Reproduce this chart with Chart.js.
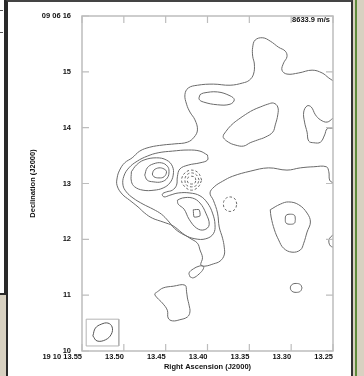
<!DOCTYPE html>
<html>
<head>
<meta charset="utf-8">
<script src="https://cdn.jsdelivr.net/npm/chart.js@4.4.1/dist/chart.umd.min.js"></script>
<style>
  html, body { margin: 0; padding: 0; }
  body {
    width: 364px; height: 376px; position: relative; overflow: hidden;
    background: #d8d1c1;
    font-family: "Liberation Sans", Arial, sans-serif;
  }
  #side-panel {
    position: absolute; left: 0; top: 0; width: 4px; height: 293px;
    background: #fff; border-right: 2px solid #2a2a2a; border-bottom: 2px solid #2a2a2a;
  }
  .side-tick { position: absolute; left: 0; width: 3px; height: 1px; background: #555; }
  #panel {
    position: absolute; left: 6px; top: 0; width: 343px; height: 390px;
    background: #fff; border-left: 2px solid #2a2a2a; border-top: 2px solid #444;
    border-right: 2px solid #333;
  }
  #green-edge { position: absolute; left: 355px; top: 0; width: 2px; height: 376px; background: #5f8b3c; }
  #map { position: absolute; left: 0; top: 0; z-index: 2; }
</style>
</head>
<body>
<div id="side-panel"><div class="side-tick" style="top:10px"></div><div class="side-tick" style="top:32px"></div></div>
<div id="panel"></div>
<div id="green-edge"></div>
<canvas id="map" width="364" height="376"></canvas>

<script>
// ============================================
// Axis ticks
// ============================================
const raTicks = [13.55, 13.5, 13.45, 13.4, 13.35, 13.3, 13.25];
const raLabels = ["19 10 13.55", "13.50", "13.45", "13.40", "13.35", "13.30", "13.25"];
const decTicks = [10, 11, 12, 13, 14, 15, 16];
const decLabels = ["10", "11", "12", "13", "14", "15", "09 06 16"];
const velocityLabel = "8633.9 m/s";

// ============================================
// Contours [RA s, Dec arcsec]
// ============================================
// lowest level, runs in and out of the east edge
const outerRim = [
  [13.250,14.84],[13.255,14.89],[13.263,14.98],[13.275,15.03],[13.291,14.98],[13.305,14.96],
  [13.311,15.03],[13.309,15.16],[13.305,15.27],[13.307,15.37],[13.315,15.44],[13.325,15.55],
  [13.334,15.61],[13.343,15.57],[13.346,15.44],[13.346,15.28],[13.344,15.14],[13.345,14.96],
  [13.350,14.85],[13.358,14.80],[13.373,14.76],[13.393,14.78],[13.412,14.76],[13.423,14.71],
  [13.427,14.59],[13.425,14.42],[13.421,14.28],[13.415,14.14],[13.412,13.96],[13.416,13.83],
  [13.424,13.74],[13.439,13.71],[13.453,13.69],[13.469,13.65],[13.481,13.58],[13.490,13.46],
  [13.499,13.37],[13.505,13.24],[13.508,13.10],[13.508,12.96],[13.502,12.81],[13.493,12.70],
  [13.483,12.58],[13.475,12.47],[13.466,12.38],[13.453,12.31],[13.441,12.24],[13.430,12.11],
  [13.421,12.02],[13.412,11.93],[13.409,11.81],[13.406,11.67],[13.408,11.54],[13.403,11.52],
  [13.393,11.56],[13.385,11.61],[13.380,11.72],[13.380,11.86],[13.382,12.02],[13.386,12.22],
  [13.388,12.47],[13.393,12.70],[13.397,12.83],[13.392,12.94],[13.382,13.04],[13.370,13.13],
  [13.349,13.22],[13.327,13.28],[13.305,13.24],[13.289,13.28],[13.273,13.30],[13.258,13.30],
  [13.255,13.21],[13.254,13.06],[13.250,13.01]
];
const mainCore = [
  [13.400,13.51],[13.409,13.58],[13.423,13.60],[13.442,13.58],[13.459,13.55],[13.472,13.49],
  [13.484,13.40],[13.494,13.28],[13.500,13.13],[13.501,12.97],[13.497,12.85],[13.489,12.74],
  [13.477,12.63],[13.465,12.54],[13.455,12.45],[13.447,12.33],[13.439,12.19],[13.428,12.08],
  [13.415,12.01],[13.402,12.01],[13.393,12.10],[13.391,12.26],[13.394,12.47],[13.400,12.65],
  [13.409,12.78],[13.421,12.83],[13.435,12.83],[13.445,12.79],[13.452,12.76],[13.454,12.81],
  [13.449,12.85],[13.442,12.88],[13.437,12.97],[13.436,13.12],[13.433,13.26],[13.423,13.33],
  [13.409,13.37],[13.400,13.42]
];
const coreRing3 = [
  [13.491,13.21],[13.491,13.04],[13.487,12.94],[13.477,12.88],[13.464,12.88],[13.453,12.92],
  [13.445,13.01],[13.441,13.15],[13.442,13.31],[13.449,13.42],[13.461,13.46],[13.476,13.42],
  [13.485,13.33]
];
const coreRing4 = [
  [13.475,13.15],[13.472,13.28],[13.465,13.35],[13.455,13.37],[13.448,13.31],[13.446,13.22],
  [13.448,13.10],[13.455,13.03],[13.465,13.03],[13.472,13.06]
];
const coreRing5 = [
  [13.466,13.17],[13.464,13.24],[13.458,13.28],[13.452,13.26],[13.449,13.21],[13.452,13.12],
  [13.458,13.10],[13.464,13.12]
];
const southCore3 = [
  [13.436,12.70],[13.430,12.74],[13.418,12.74],[13.409,12.65],[13.402,12.47],[13.398,12.26],
  [13.404,12.17],[13.413,12.20],[13.422,12.36],[13.428,12.54],[13.435,12.63]
];
const southCore4 = [[13.417,12.53],[13.410,12.53],[13.409,12.42],[13.416,12.40]];
const ridgeOval = [
  [13.409,14.59],[13.405,14.62],[13.388,14.64],[13.373,14.57],[13.368,14.50],[13.373,14.42],
  [13.388,14.41],[13.405,14.46],[13.410,14.51]
];
const ridgeArm = [
  [13.381,13.87],[13.375,13.99],[13.369,14.08],[13.361,14.17],[13.352,14.26],[13.345,14.32],
  [13.337,14.37],[13.328,14.42],[13.321,14.44],[13.316,14.37],[13.316,14.23],[13.319,14.05],
  [13.322,13.92],[13.331,13.83],[13.340,13.78],[13.349,13.73],[13.357,13.67],[13.367,13.69],
  [13.375,13.74],[13.381,13.82]
];
const eastEdge = [
  [13.250,14.17],[13.257,14.10],[13.265,14.14],[13.271,14.23],[13.276,14.37],[13.281,14.39],
  [13.285,14.28],[13.284,14.10],[13.281,13.92],[13.279,13.76],[13.273,13.73],[13.265,13.74],
  [13.260,13.87],[13.257,13.98],[13.250,13.99]
];
const eastLobe = [
  [13.325,12.53],[13.313,12.63],[13.303,12.67],[13.291,12.62],[13.281,12.47],[13.277,12.31],
  [13.281,12.13],[13.285,11.93],[13.289,11.81],[13.299,11.77],[13.309,11.84],[13.315,11.99],
  [13.320,12.17],[13.324,12.40]
];
const eastLobeCore = [
  [13.295,12.36],[13.296,12.43],[13.301,12.45],[13.306,12.43],[13.307,12.36],[13.306,12.29],
  [13.301,12.27],[13.296,12.29]
];
const eastEdgeArc = [[13.250,12.08],[13.254,12.02],[13.255,11.95],[13.253,11.88],[13.250,11.86]];
const southEastSpot = [
  [13.287,11.13],[13.289,11.19],[13.294,11.21],[13.299,11.19],[13.301,11.13],[13.299,11.07],
  [13.294,11.05],[13.289,11.07]
];
const tailSpot = [
  [13.421,11.33],[13.422,11.40],[13.417,11.47],[13.410,11.52],[13.405,11.52],[13.405,11.47],
  [13.410,11.38],[13.417,11.31]
];
const southBlob = [
  [13.460,11.06],[13.453,11.13],[13.441,11.16],[13.427,11.18],[13.425,11.06],[13.424,10.95],
  [13.422,10.82],[13.421,10.70],[13.424,10.61],[13.433,10.56],[13.442,10.54],[13.447,10.59],
  [13.448,10.73],[13.454,10.86],[13.460,10.95],[13.463,11.02]
];
// negative levels (dashed)
const holeRing1 = [
  [13.407,13.06],[13.411,13.19],[13.419,13.24],[13.427,13.19],[13.431,13.06],[13.427,12.94],
  [13.419,12.88],[13.411,12.94]
];
const holeRing2 = [
  [13.410,13.06],[13.413,13.15],[13.419,13.19],[13.425,13.15],[13.427,13.06],[13.425,12.97],
  [13.419,12.94],[13.413,12.97]
];
const holeRing3 = [
  [13.414,13.06],[13.415,13.11],[13.419,13.13],[13.423,13.11],[13.424,13.06],[13.423,13.01],
  [13.419,12.99],[13.415,13.01]
];
const eastHole = [
  [13.365,12.63],[13.367,12.72],[13.373,12.76],[13.379,12.72],[13.381,12.63],[13.379,12.54],
  [13.373,12.50],[13.367,12.54]
];
// beam
const beamBox = [[13.545,10.57],[13.506,10.57],[13.506,10.09],[13.545,10.09]];
const beamEllipse = [
  [13.537,10.27],[13.534,10.41],[13.527,10.48],[13.519,10.50],[13.514,10.43],[13.515,10.30],
  [13.522,10.20],[13.532,10.18]
];

// ============================================
// Datasets
// ============================================
const LINE_COLOR = "#6a6a6a";

function toPoints(arr, close) {
  const pts = arr.map(([x, y]) => ({ x, y }));
  if (close) pts.push({ x: arr[0][0], y: arr[0][1] });
  return pts;
}

function contour(arr, opts = {}) {
  return {
    data: toPoints(arr, opts.open !== true),
    showLine: true,
    borderColor: opts.color || LINE_COLOR,
    borderWidth: opts.width || 1,
    borderDash: opts.dashed ? [2.5, 2] : [],
    tension: opts.tension !== undefined ? opts.tension : 0.4,
    pointRadius: 0,
    fill: false,
  };
}

const datasets = [
  contour(outerRim, { open: true }),
  contour(mainCore),
  contour(coreRing3),
  contour(coreRing4),
  contour(coreRing5),
  contour(southCore3),
  contour(southCore4, { tension: 0.2 }),
  contour(ridgeOval),
  contour(ridgeArm),
  contour(eastEdge, { open: true }),
  contour(eastLobe),
  contour(eastLobeCore),
  contour(eastEdgeArc, { open: true }),
  contour(southEastSpot),
  contour(tailSpot),
  contour(southBlob),
  contour(holeRing1, { dashed: true }),
  contour(holeRing2, { dashed: true }),
  contour(holeRing3, { dashed: true }),
  contour(eastHole, { dashed: true }),
  contour(beamBox, { tension: 0, color: "#b4b4b4" }),
  contour(beamEllipse, { color: "#555" }),
];

// ============================================
// Frame, inner ticks and velocity label
// ============================================
const framePlugin = {
  id: "framePlugin",
  afterDatasetsDraw(chart) {
    const { ctx, chartArea: a, scales } = chart;
    ctx.save();
    ctx.strokeStyle = "#bdbdbd";
    ctx.lineWidth = 1.5;
    ctx.strokeRect(a.left, a.top, a.right - a.left, a.bottom - a.top);

    ctx.beginPath();
    raTicks.forEach((v) => {
      const px = scales.x.getPixelForValue(v);
      ctx.moveTo(px, a.top);
      ctx.lineTo(px, a.top + 7);
      ctx.moveTo(px, a.bottom);
      ctx.lineTo(px, a.bottom - 7);
    });
    decTicks.forEach((v) => {
      const py = scales.y.getPixelForValue(v);
      ctx.moveTo(a.left, py);
      ctx.lineTo(a.left + 7, py);
      ctx.moveTo(a.right, py);
      ctx.lineTo(a.right - 7, py);
    });
    ctx.lineWidth = 1.2;
    ctx.stroke();

    ctx.fillStyle = "#111";
    ctx.font = 'bold 7.5px "Liberation Sans", Arial, sans-serif';
    ctx.textAlign = "right";
    ctx.textBaseline = "middle";
    ctx.fillText(velocityLabel, a.right - 3, a.top + 4);
    ctx.restore();
  },
};

// ============================================
// Chart
// ============================================
const labelFont = { family: '"Liberation Sans", Arial, sans-serif', size: 7.5, weight: "bold" };

new Chart(document.getElementById("map"), {
  type: "scatter",
  data: { datasets },
  options: {
    responsive: false,
    animation: false,
    devicePixelRatio: 1,
    layout: { padding: { top: 16, right: 31, left: 0, bottom: 0 } },
    plugins: { legend: { display: false }, tooltip: { enabled: false } },
    events: [],
    scales: {
      x: {
        type: "linear",
        position: "bottom",
        reverse: true,
        min: 13.25,
        max: 13.55,
        grid: { display: false },
        border: { display: false },
        afterBuildTicks: (s) => { s.ticks = raTicks.map((v) => ({ value: v })); },
        afterFit: (s) => { s.height = 25; },
        ticks: {
          align: "end",
          padding: -7,
          maxRotation: 0,
          autoSkip: false,
          color: "#111",
          font: labelFont,
          callback: (v, i) => raLabels[i],
        },
        title: {
          display: true,
          text: "Right Ascension (J2000)",
          color: "#111",
          font: labelFont,
          padding: { top: 0, bottom: 5 },
        },
      },
      y: {
        type: "linear",
        position: "left",
        min: 10,
        max: 16,
        grid: { display: false },
        border: { display: false },
        afterBuildTicks: (s) => { s.ticks = decTicks.map((v) => ({ value: v })); },
        afterFit: (s) => { s.width = 82; },
        ticks: {
          padding: 3,
          autoSkip: false,
          color: "#111",
          font: labelFont,
          callback: (v, i) => decLabels[i],
        },
        title: {
          display: true,
          text: "Declination (J2000)",
          color: "#111",
          font: labelFont,
          padding: { top: 28, bottom: 0 },
        },
      },
    },
  },
  plugins: [framePlugin],
});
</script>
</body>
</html>
